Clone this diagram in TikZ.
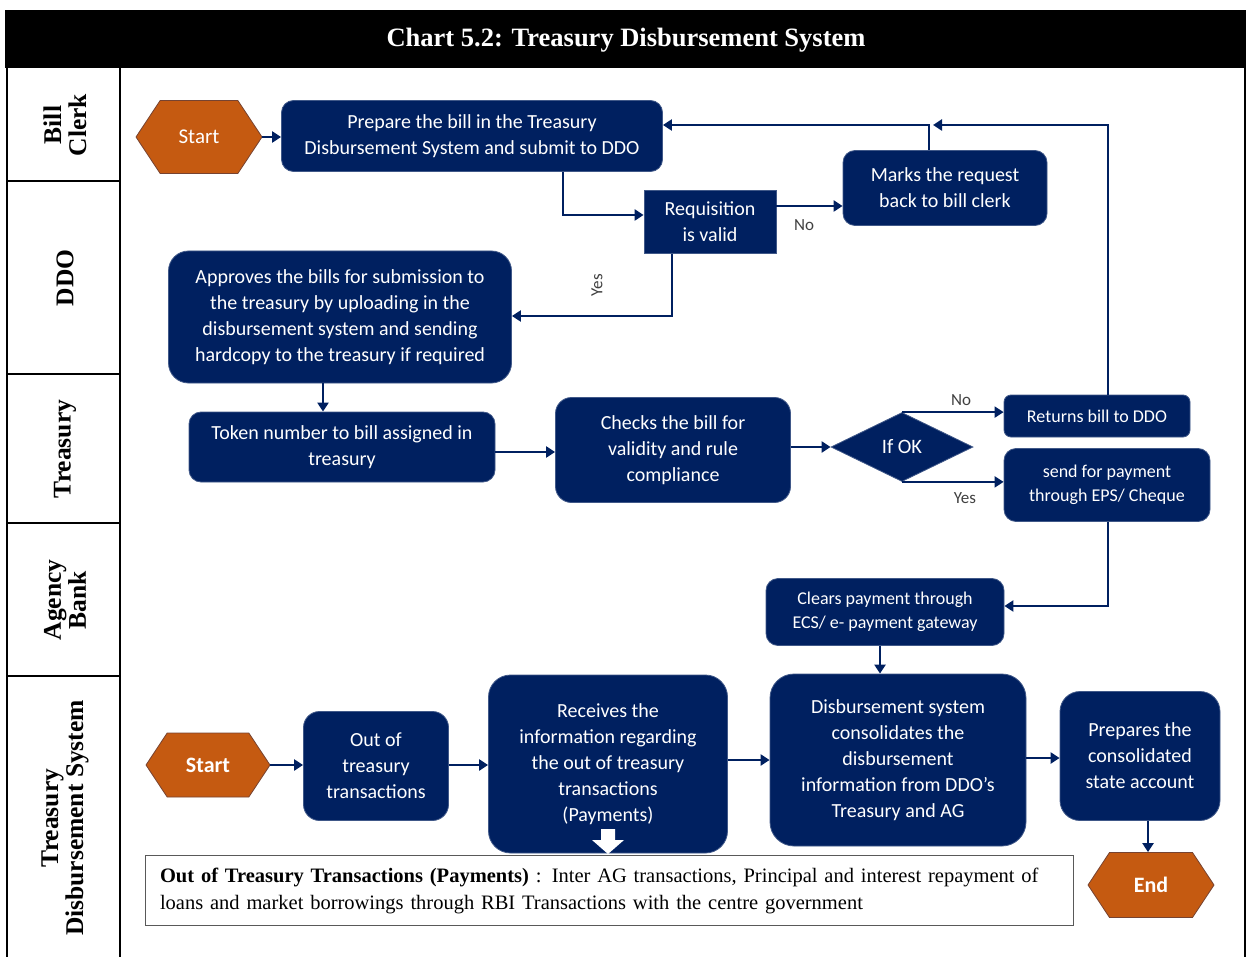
\documentclass[tikz,border=0pt]{standalone}
\usepackage{fontspec}
\setmainfont{Liberation Serif}
\newfontfamily\boxfont{Carlito}
\usetikzlibrary{shapes.geometric,shapes.symbols,arrows.meta}
\definecolor{navy}{HTML}{002060}
\definecolor{burnt}{HTML}{C55A11}
\definecolor{lbl}{HTML}{404040}
\tikzset{
  blk/.style={fill=navy, draw=navy!75!white, line width=0.8pt, rounded corners=12pt, text=white,
    font=\boxfont\fontsize{20}{26}\selectfont, align=center, inner sep=0pt},
  sblk/.style={blk, font=\boxfont\fontsize{18}{24}\selectfont},
  hexa/.style={signal, signal to=west and east, signal pointer angle=113, fill=burnt,
    draw=burnt!60!navy, line width=0.8pt, text=white, inner sep=0pt},
  conn/.style={draw=navy, line width=2.6pt, -{Triangle[length=9pt,width=11pt]}},
  yn/.style={text=lbl, font=\boxfont\fontsize{17}{18}\selectfont, inner sep=0pt},
  lane/.style={rotate=90, font=\bfseries\fontsize{25.5}{25}\selectfont, align=center, inner sep=0pt},
  frame/.style={draw=black, line width=2pt}
}
\begin{document}
\begin{tikzpicture}[x=1pt,y=-1pt]
\useasboundingbox (0,0) rectangle (1247,957);
% title
\fill[black] (5,10) rectangle (1246,68);
\node[text=white, font=\bfseries\fontsize{26.5}{26}\selectfont, inner sep=0pt] (title) at (626,40) {Chart 5.2: Treasury Disbursement System};
% frame
\draw[frame] (7,68) -- (7,957);
\draw[frame] (120,68) -- (120,957);
\draw[frame] (1245,68) -- (1245,957);
\foreach \yy in {181,374,523,676} \draw[frame] (7,\yy) -- (120,\yy);
% lane labels
\node[lane] (l1) at (65,125) {Bill\\Clerk};
\node[lane] (l2) at (65,278) {DDO};
\node[lane] (l3) at (65,449) {Treasury};
\node[lane] (l4) at (65,600) {Agency\\Bank};
\node[lane] (l5) at (65,818) {Treasury\\Disbursement System};

% nodes
\node[hexa, minimum width=126pt, minimum height=73pt, font=\boxfont\fontsize{21}{21}\selectfont] (s1) at (199,137) {Start};
\node[blk, minimum width=381pt, minimum height=71pt] (prep) at (472,136) {Prepare the bill in the Treasury\\Disbursement System and submit to DDO};
\node[blk, rounded corners=0pt, minimum width=132pt, minimum height=63pt] (req) at (710,222) {Requisition\\is valid};
\node[blk, minimum width=204pt, minimum height=75pt] (marks) at (945,188) {Marks the request\\back to bill clerk};
\node[blk, rounded corners=20pt, minimum width=343pt, minimum height=132pt] (appr) at (340,317) {Approves the bills for submission to\\the treasury by uploading in the\\disbursement system and sending\\hardcopy to the treasury if required};
\node[blk, minimum width=306pt, minimum height=70pt] (tok) at (342,447) {Token number to bill assigned in\\treasury};
\node[blk, rounded corners=16pt, minimum width=235pt, minimum height=105pt] (chk) at (673,450) {Checks the bill for\\validity and rule\\compliance};
\node[diamond, fill=navy, draw=navy!75!white, line width=0.8pt, text=white, inner sep=0pt, aspect=2,
  minimum width=142pt, minimum height=69pt, font=\boxfont\fontsize{20.5}{20}\selectfont] (ifok) at (902,447) {If OK};
\node[sblk, rounded corners=7pt, minimum width=186pt, minimum height=42pt] (ret) at (1097,416) {Returns bill to DDO};
\node[sblk, minimum width=206pt, minimum height=73pt] (send) at (1107,485) {send for payment\\through EPS/ Cheque};
\node[sblk, minimum width=238pt, minimum height=67pt] (clr) at (885,612) {Clears payment through\\ECS/ e- payment gateway};
\node[hexa, minimum width=124pt, minimum height=64pt, font=\boxfont\bfseries\fontsize{22}{22}\selectfont] (s2) at (208,765) {Start};
\node[blk, rounded corners=16pt, minimum width=145pt, minimum height=109pt] (out) at (376,766) {Out of\\treasury\\transactions};
\node[blk, rounded corners=22pt, minimum width=239pt, minimum height=178pt] (rec) at (608,764) {Receives the\\information regarding\\the out of treasury\\transactions\\(Payments)};
\node[blk, rounded corners=24pt, minimum width=256pt, minimum height=172pt] (disb) at (898,760) {Disbursement system\\consolidates the\\disbursement\\information from DDO’s\\Treasury and AG};
\node[blk, rounded corners=20pt, minimum width=160pt, minimum height=129pt] (prepa) at (1140,756) {Prepares the\\consolidated\\state account};
\node[hexa, minimum width=126pt, minimum height=65pt, font=\boxfont\bfseries\fontsize{22}{22}\selectfont] (endn) at (1151,885) {End};

% note
\node[draw=gray!70!black, line width=1pt, fill=white, anchor=north west, minimum width=928pt, minimum height=70pt,
  text width=905pt, align=left, inner sep=0pt, font=\fontsize{20.5}{27}\selectfont] (note) at (145,855)
  {\hspace*{3pt}\textbf{Out of Treasury Transactions (Payments)} : Inter AG transactions, Principal and interest repayment of\\
   \hspace*{3pt}loans and market borrowings through RBI Transactions with the centre government};
% white block arrow
\fill[white] (601,829) -- (615,829) -- (615,840) -- (624,840) -- (608,854) -- (592,840) -- (601,840) -- cycle;

% connectors
\coordinate (j) at (929,125);
\draw[conn] (s1.east) -- (prep.west |- s1.east);
\draw[conn] (prep.south -| 563,0) |- (req.west |- 0,215);
\draw[conn] (req.east |- 0,206) -- (marks.west |- 0,206);
\node[yn] (no1) at (804,225) {No};
\draw[conn] (marks.north -| j) |- (prep.east |- j);
\draw[conn] (ret.north -| 1108,0) |- ([xshift=4pt]j);
\draw[conn] (req.south -| 672,0) |- (appr.east |- 0,316);
\node[yn, rotate=90] (yes1) at (597,285) {Yes};
\draw[conn] (appr.south -| 323,0) -- (tok.north -| 323,0);
\draw[conn] (tok.east |- 0,452) -- (chk.west |- 0,452);
\draw[conn] (chk.east |- ifok) -- (ifok.west);
\draw[conn, line width=2pt] (ifok.north) -- (ret.west |- ifok.north);
\node[yn] (no2) at (961,400) {No};
\draw[conn, line width=2pt] (ifok.south) -- (send.west |- ifok.south);
\node[yn] (yes2) at (965,498) {Yes};
\draw[conn] (send.south -| 1108,0) |- (clr.east |- 0,606);
\draw[conn] (clr.south -| 880,0) -- (disb.north -| 880,0);
\draw[conn] (s2.east) -- (out.west |- s2.east);
\draw[conn] (out.east |- 0,765) -- (rec.west |- 0,765);
\draw[conn] (rec.east |- 0,760) -- (disb.west |- 0,760);
\draw[conn] (disb.east |- 0,758) -- (prepa.west |- 0,758);
\draw[conn] (prepa.south -| 1148,0) -- (endn.north -| 1148,0);
\end{tikzpicture}
\end{document}
